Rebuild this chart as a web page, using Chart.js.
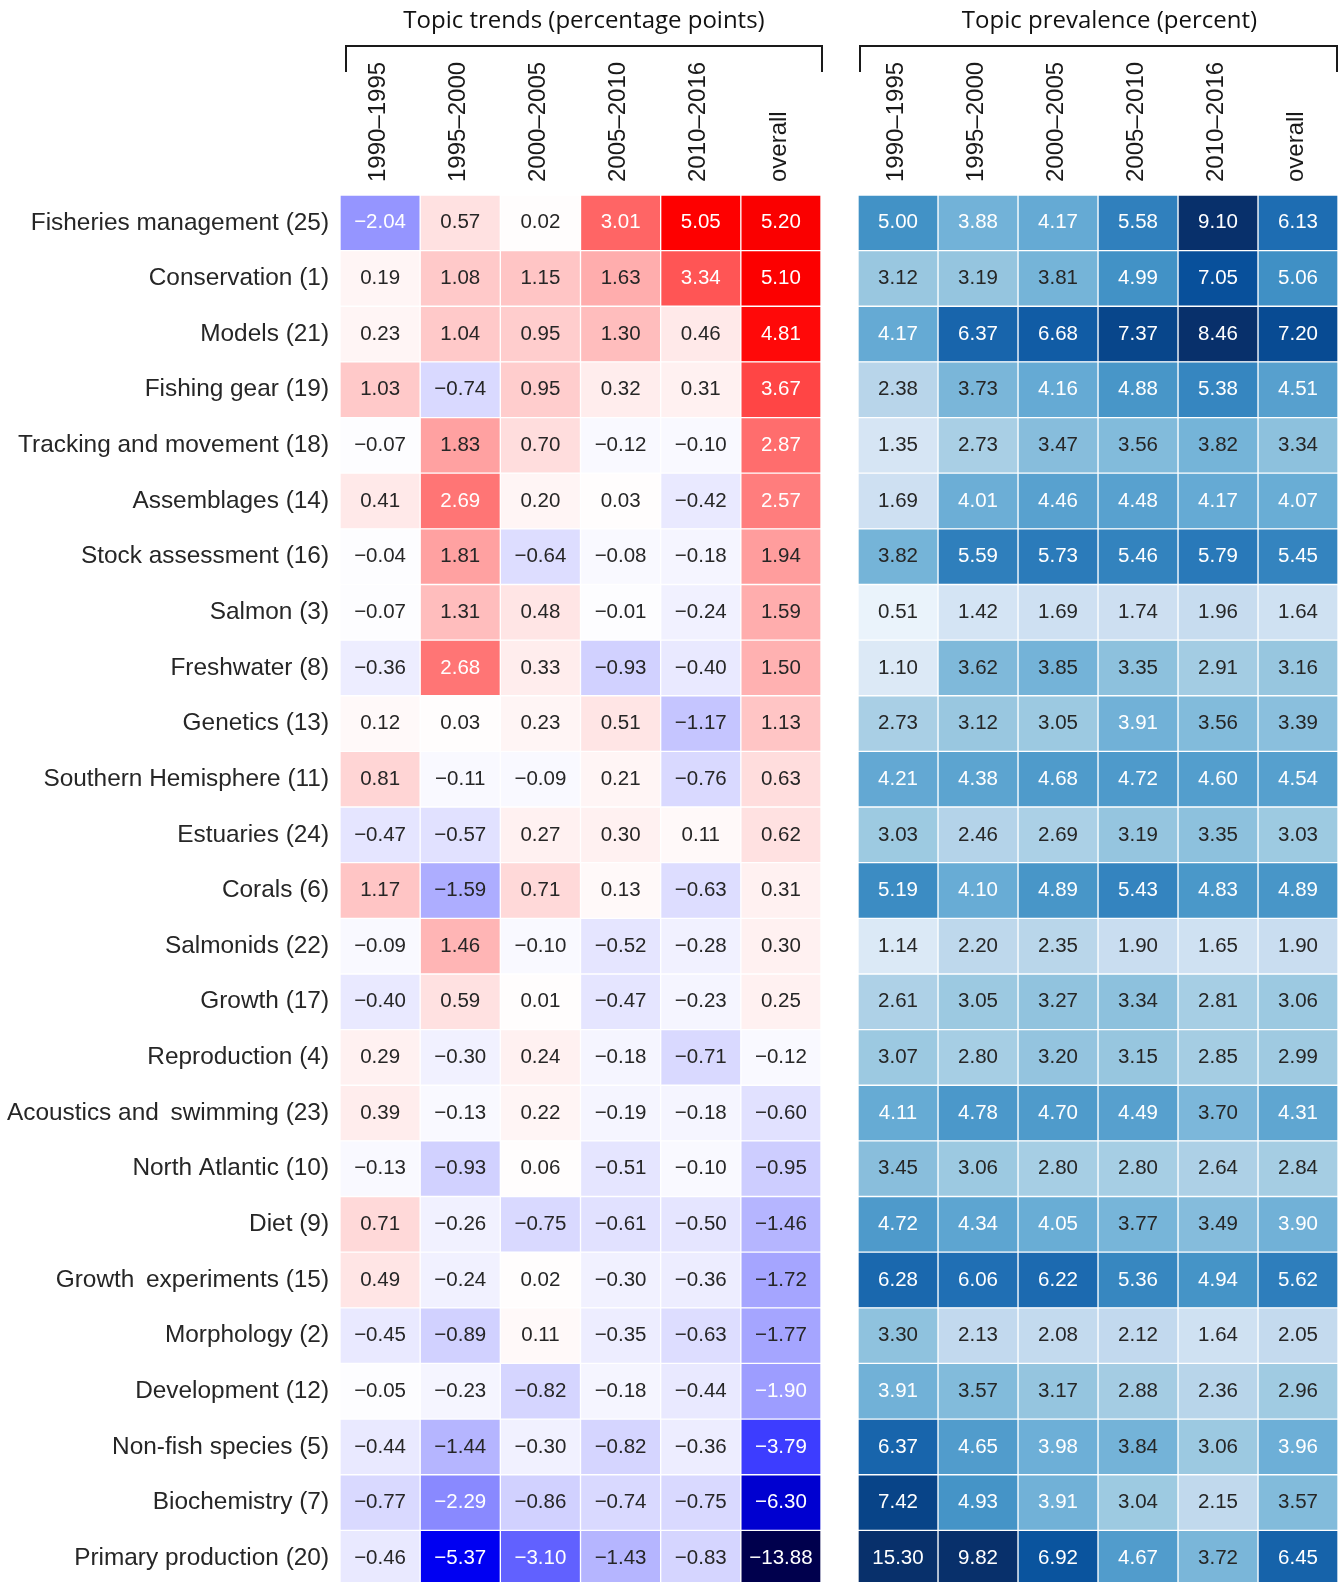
<!DOCTYPE html>
<html>
<head>
<meta charset="utf-8">
<script src="https://cdn.jsdelivr.net/npm/chart.js@4"></script>
<style>
  html, body { margin: 0; padding: 0; background: #fff; overflow: hidden; }
  #wrap { position: relative; width: 1343px; height: 1582px; overflow: hidden; }
  canvas { position: absolute; top: 0; }
  #trend-chart { left: 0; }
  #prev-chart { left: 835px; }
</style>
</head>
<body>
<div id="wrap">
  <canvas id="trend-chart" width="835" height="1586"></canvas>
  <canvas id="prev-chart" width="508" height="1586"></canvas>
</div>
<script>
// 行（上から順）
const topics = [
  'Fisheries management (25)', 'Conservation (1)', 'Models (21)', 'Fishing gear (19)',
  'Tracking and movement (18)', 'Assemblages (14)', 'Stock assessment (16)', 'Salmon (3)',
  'Freshwater (8)', 'Genetics (13)', 'Southern Hemisphere (11)', 'Estuaries (24)',
  'Corals (6)', 'Salmonids (22)', 'Growth (17)', 'Reproduction (4)',
  'Acoustics and\u2009 swimming (23)', 'North Atlantic (10)', 'Diet (9)', 'Growth\u2009 experiments (15)',
  'Morphology (2)', 'Development (12)', 'Non-fish species (5)', 'Biochemistry (7)',
  'Primary production (20)',
];

// 列見出し
const periods = ['1990–1995', '1995–2000', '2000–2005', '2005–2010', '2010–2016', 'overall'];

// Topic trends (percentage points)
const trend1990 = [-2.04, 0.19, 0.23, 1.03, -0.07, 0.41, -0.04, -0.07, -0.36, 0.12, 0.81, -0.47, 1.17,
  -0.09, -0.40, 0.29, 0.39, -0.13, 0.71, 0.49, -0.45, -0.05, -0.44, -0.77, -0.46];
const trend1995 = [0.57, 1.08, 1.04, -0.74, 1.83, 2.69, 1.81, 1.31, 2.68, 0.03, -0.11, -0.57, -1.59,
  1.46, 0.59, -0.30, -0.13, -0.93, -0.26, -0.24, -0.89, -0.23, -1.44, -2.29, -5.37];
const trend2000 = [0.02, 1.15, 0.95, 0.95, 0.70, 0.20, -0.64, 0.48, 0.33, 0.23, -0.09, 0.27, 0.71,
  -0.10, 0.01, 0.24, 0.22, 0.06, -0.75, 0.02, 0.11, -0.82, -0.30, -0.86, -3.10];
const trend2005 = [3.01, 1.63, 1.30, 0.32, -0.12, 0.03, -0.08, -0.01, -0.93, 0.51, 0.21, 0.30, 0.13,
  -0.52, -0.47, -0.18, -0.19, -0.51, -0.61, -0.30, -0.35, -0.18, -0.82, -0.74, -1.43];
const trend2010 = [5.05, 3.34, 0.46, 0.31, -0.10, -0.42, -0.18, -0.24, -0.40, -1.17, -0.76, 0.11, -0.63,
  -0.28, -0.23, -0.71, -0.18, -0.10, -0.50, -0.36, -0.63, -0.44, -0.36, -0.75, -0.83];
const trendOverall = [5.20, 5.10, 4.81, 3.67, 2.87, 2.57, 1.94, 1.59, 1.50, 1.13, 0.63, 0.62, 0.31,
  0.30, 0.25, -0.12, -0.60, -0.95, -1.46, -1.72, -1.77, -1.90, -3.79, -6.30, -13.88];

// Topic prevalence (percent)
const prev1990 = [5.00, 3.12, 4.17, 2.38, 1.35, 1.69, 3.82, 0.51, 1.10, 2.73, 4.21, 3.03, 5.19,
  1.14, 2.61, 3.07, 4.11, 3.45, 4.72, 6.28, 3.30, 3.91, 6.37, 7.42, 15.30];
const prev1995 = [3.88, 3.19, 6.37, 3.73, 2.73, 4.01, 5.59, 1.42, 3.62, 3.12, 4.38, 2.46, 4.10,
  2.20, 3.05, 2.80, 4.78, 3.06, 4.34, 6.06, 2.13, 3.57, 4.65, 4.93, 9.82];
const prev2000 = [4.17, 3.81, 6.68, 4.16, 3.47, 4.46, 5.73, 1.69, 3.85, 3.05, 4.68, 2.69, 4.89,
  2.35, 3.27, 3.20, 4.70, 2.80, 4.05, 6.22, 2.08, 3.17, 3.98, 3.91, 6.92];
const prev2005 = [5.58, 4.99, 7.37, 4.88, 3.56, 4.48, 5.46, 1.74, 3.35, 3.91, 4.72, 3.19, 5.43,
  1.90, 3.34, 3.15, 4.49, 2.80, 3.77, 5.36, 2.12, 2.88, 3.84, 3.04, 4.67];
const prev2010 = [9.10, 7.05, 8.46, 5.38, 3.82, 4.17, 5.79, 1.96, 2.91, 3.56, 4.60, 3.35, 4.83,
  1.65, 2.81, 2.85, 3.70, 2.64, 3.49, 4.94, 1.64, 2.36, 3.06, 2.15, 3.72];
const prevOverall = [6.13, 5.06, 7.20, 4.51, 3.34, 4.07, 5.45, 1.64, 3.16, 3.39, 4.54, 3.03, 4.89,
  1.90, 3.06, 2.99, 4.31, 2.84, 3.90, 5.62, 2.05, 2.96, 3.96, 3.57, 6.45];

const trendColumns = [trend1990, trend1995, trend2000, trend2005, trend2010, trendOverall];
const prevColumns = [prev1990, prev1995, prev2000, prev2005, prev2010, prevOverall];

// カラーマップ（matplotlib の seismic / Blues）
const seismicStops = [[0, 0, 0.3], [0, 0, 1], [1, 1, 1], [1, 0, 0], [0.5, 0, 0]];
const bluesStops = [
  [0.968627, 0.984314, 1.0], [0.870588, 0.921569, 0.968627], [0.776471, 0.858824, 0.937255],
  [0.619608, 0.792157, 0.882353], [0.419608, 0.682353, 0.839216], [0.258824, 0.572549, 0.776471],
  [0.129412, 0.443137, 0.709804], [0.031373, 0.317647, 0.611765], [0.031373, 0.188235, 0.419608],
];

function lutColor(stops, t) {
  t = Math.min(Math.max(t, 0), 1);
  const idx = Math.min(Math.floor(t * 256), 255);
  const x = idx / 255 * (stops.length - 1);
  const i = Math.min(Math.floor(x), stops.length - 2);
  const f = x - i;
  return stops[i].map((c, k) => c + (stops[i + 1][k] - c) * f);
}

const trendRgb = (v) => lutColor(seismicStops, (v + 10) / 20);
const prevRgb = (v) => lutColor(bluesStops, v / 8.03);

const toCss = (rgb) => `rgb(${rgb.map((c) => Math.round(c * 255)).join(',')})`;

// 背景の明るさで文字色を決める
function textColor(rgb) {
  const lin = rgb.map((c) => (c <= 0.03928 ? c / 12.92 : Math.pow((c + 0.055) / 1.055, 2.4)));
  const lum = 0.2126 * lin[0] + 0.7152 * lin[1] + 0.0722 * lin[2];
  return lum > 0.408 ? '#262626' : '#ffffff';
}

const fmt = (v) => (v < 0 ? '\u2212' : '') + Math.abs(v).toFixed(2);

// セルの数値
const cellLabels = {
  id: 'cellLabels',
  afterDatasetsDraw(chart) {
    const ctx = chart.ctx;
    ctx.save();
    ctx.font = '20.5px "Liberation Sans", Arial, sans-serif';
    ctx.textAlign = 'center';
    ctx.textBaseline = 'middle';
    chart.data.datasets.forEach((ds, j) => {
      chart.getDatasetMeta(j).data.forEach((bar, i) => {
        ctx.fillStyle = ds.textColors[i];
        ctx.fillText(fmt(ds.values[i]), (bar.x + bar.base) / 2, bar.y);
      });
    });
    ctx.restore();
  },
};

// タイトル・カッコ線・列見出し
const headerPlugin = {
  id: 'headerPlugin',
  afterDraw(chart, args, opts) {
    const { left, right, top } = chart.chartArea;
    const ctx = chart.ctx;
    const x0 = left + opts.inset[0];
    const x1 = right + opts.inset[1];
    ctx.save();
    ctx.strokeStyle = '#1a1a1a';
    ctx.lineWidth = 2;
    ctx.beginPath();
    ctx.moveTo(x0, 72);
    ctx.lineTo(x0, 46);
    ctx.lineTo(x1, 46);
    ctx.lineTo(x1, 72);
    ctx.stroke();

    ctx.font = '24px "Open Sans", sans-serif';
    ctx.fillStyle = '#111111';
    ctx.textAlign = 'center';
    ctx.textBaseline = 'alphabetic';
    ctx.fillText(opts.text, (x0 + x1) / 2 + opts.dx, 28);

    // 列見出し（縦書き）
    const xScale = chart.scales.x;
    ctx.font = '24px "Liberation Sans", Arial, sans-serif';
    ctx.fillStyle = '#1a1a1a';
    ctx.textAlign = 'left';
    ctx.textBaseline = 'middle';
    periods.forEach((p, i) => {
      ctx.save();
      ctx.translate(xScale.getPixelForValue(i + 0.5) - 2, top - 13);
      ctx.rotate(-Math.PI / 2);
      ctx.fillText(p, 0, 0);
      ctx.restore();
    });
    ctx.restore();
  },
};

function makeHeatmap(canvasId, columns, rgbFn, opts) {
  const datasets = columns.map((values, j) => {
    const rgbs = values.map(rgbFn);
    return {
      label: periods[j],
      data: values.map(() => 1),
      values: values,
      backgroundColor: rgbs.map(toCss),
      textColors: rgbs.map(textColor),
      borderColor: '#ffffff',
      borderWidth: 1,
      borderSkipped: false,
      barPercentage: 1,
      categoryPercentage: 1,
    };
  });

  const yAxis = {
    stacked: true,
    display: opts.showRows,
    grid: { display: false, drawTicks: false },
    border: { display: false },
    ticks: {
      autoSkip: false,
      padding: 11,
      color: '#262626',
      font: { size: 24.4 },
    },
  };
  if (opts.showRows) {
    yAxis.afterFit = (scale) => {
      scale.width = 340;
      scale.paddingTop = 0;
      scale.paddingBottom = 0;
    };
  }

  const ctx = document.getElementById(canvasId).getContext('2d');
  new Chart(ctx, {
    type: 'bar',
    data: { labels: topics, datasets: datasets },
    options: {
      indexAxis: 'y',
      responsive: false,
      animation: false,
      layout: { padding: opts.padding },
      scales: {
        x: {
          display: false,
          stacked: true,
          min: 0,
          max: periods.length,
        },
        y: yAxis,
      },
      plugins: {
        legend: { display: false },
        tooltip: { enabled: false },
        headerPlugin: { text: opts.title, inset: opts.inset, dx: opts.dx },
      },
    },
    plugins: [cellLabels, headerPlugin],
  });
}

Chart.defaults.font.family = '"Liberation Sans", Arial, sans-serif';

Promise.all([
  document.fonts.load('24px "Open Sans"'),
  document.fonts.load('24px "Liberation Sans"'),
]).catch(() => {}).then(() => {
  makeHeatmap('trend-chart', trendColumns, trendRgb, {
    title: 'Topic trends (percentage points)',
    showRows: true,
    padding: { left: 0, right: 14, top: 195, bottom: 0 },
    inset: [6, 1],
    dx: 0,
  });
  makeHeatmap('prev-chart', prevColumns, prevRgb, {
    title: 'Topic prevalence (percent)',
    showRows: false,
    padding: { left: 23, right: 5, top: 195, bottom: 0 },
    inset: [2, -1],
    dx: 11,
  });
});
</script>
</body>
</html>
